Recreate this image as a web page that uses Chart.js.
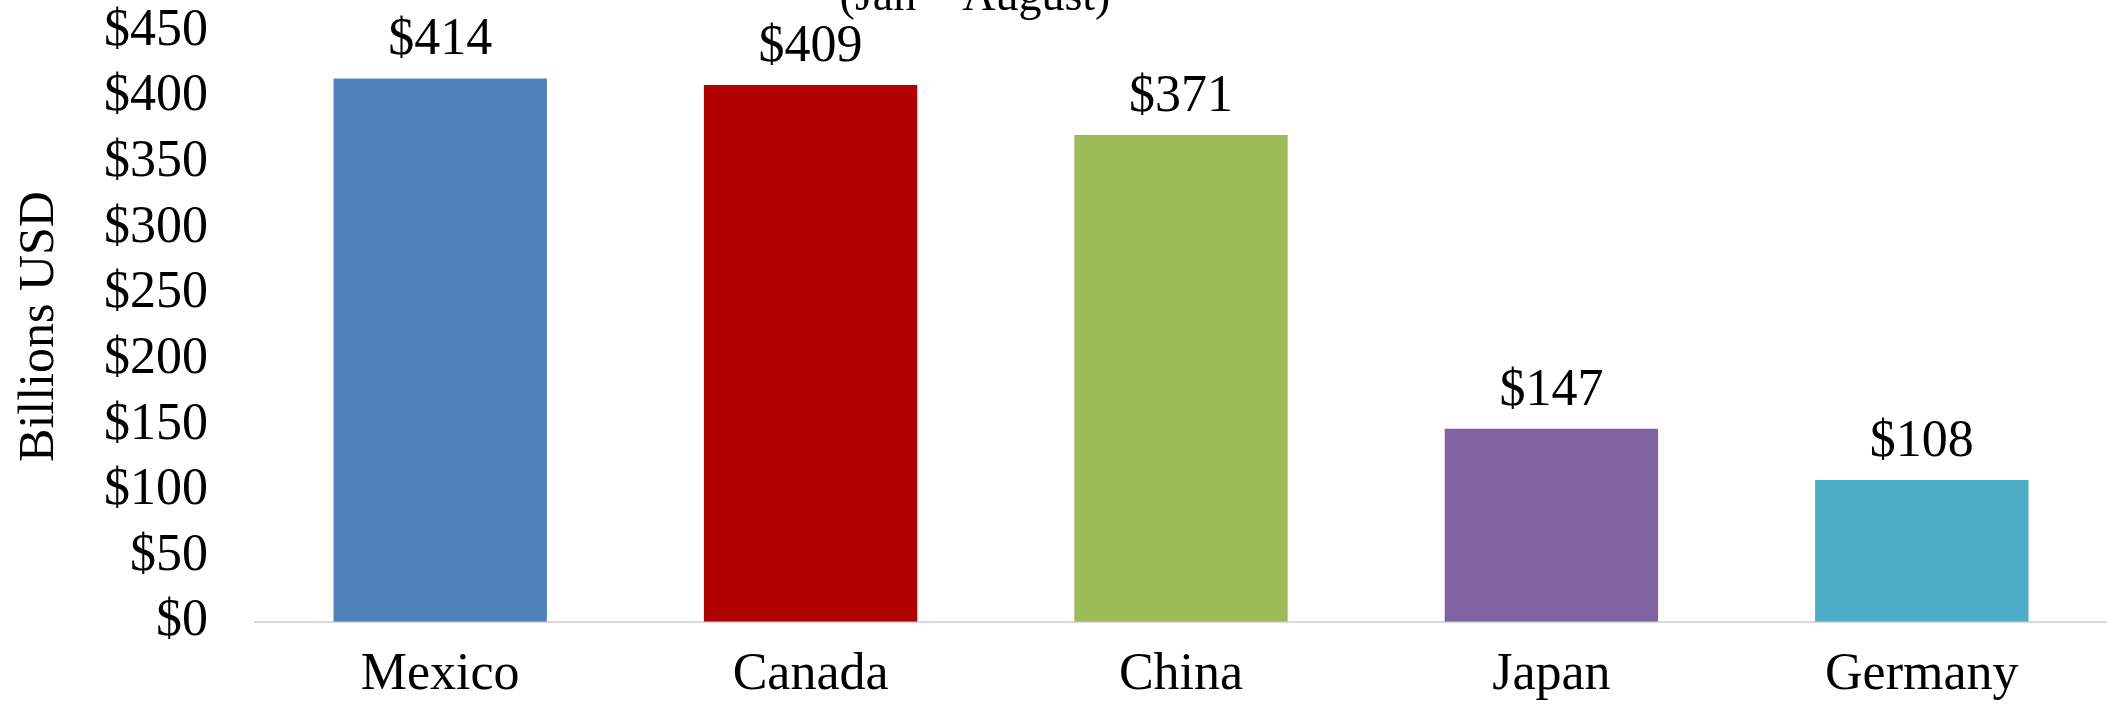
<!DOCTYPE html>
<html>
<head>
<meta charset="utf-8">
<script src="https://cdn.jsdelivr.net/npm/chart.js@4"></script>
<style>
  body { margin: 0; background: #fff; }
  #caja { width: 2107px; height: 704px; position: relative; }
</style>
</head>
<body>
<div id="caja"><canvas id="graficoPaises"></canvas></div>
<script>
// datos
const paises = ["Mexico", "Canada", "China", "Japan", "Germany"];
const valores = [414, 409, 371, 147, 108];
const colores = ["#4F81BD", "#B00000", "#9BBB59", "#8064A2", "#4BACC6"];
const ticksEje = [0, 50, 100, 150, 200, 250, 300, 350, 400, 450];
const titulo = "(Jan \u2013 August)";
const tituloEje = "Billions USD";

const fuente = "'Liberation Serif', 'Times New Roman', serif";

// etiquetas de valor encima de cada barra
const etiquetasBarras = {
  id: "etiquetasBarras",
  afterDatasetsDraw(chart) {
    const ctx = chart.ctx;
    const meta = chart.getDatasetMeta(0);
    ctx.save();
    ctx.font = "52px " + fuente;
    ctx.fillStyle = "#000";
    ctx.textAlign = "center";
    ctx.textBaseline = "alphabetic";
    meta.data.forEach((barra, i) => {
      ctx.fillText("$" + valores[i], barra.x, barra.y - 24);
    });
    ctx.restore();
  },
};

// titulo cortado arriba (solo se ve la segunda linea)
const tituloCortado = {
  id: "tituloCortado",
  afterDraw(chart) {
    const ctx = chart.ctx;
    ctx.save();
    ctx.font = "46px " + fuente;
    ctx.fillStyle = "#000";
    ctx.textAlign = "center";
    ctx.textBaseline = "alphabetic";
    ctx.fillText(titulo, 975, 10);
    ctx.restore();
  },
};

const config = {
  type: "bar",
  data: {
    labels: paises,
    datasets: [
      {
        data: valores,
        backgroundColor: colores,
        borderWidth: 0,
        categoryPercentage: 1,
        barPercentage: 0.576,
      },
    ],
  },
  options: {
    responsive: true,
    maintainAspectRatio: false,
    animation: false,
    layout: { padding: { top: 0, right: -6, bottom: 0, left: 0 } },
    plugins: {
      legend: { display: false },
      tooltip: { enabled: false },
      title: { display: false },
    },
    scales: {
      x: {
        // el espacio bajo el eje se da con tickLength (padding cuenta doble)
        grid: { display: false, drawTicks: true, tickLength: 25 },
        border: { display: true, color: "#d9d9d9", width: 2 },
        ticks: {
          color: "#000",
          padding: 0,
          font: { family: fuente, size: 52, lineHeight: 1.1 },
        },
      },
      y: {
        min: 0,
        max: 450,
        afterBuildTicks(eje) {
          eje.ticks = ticksEje.map((v) => ({ value: v }));
        },
        grid: { display: false, drawTicks: true, tickLength: 47 },
        border: { display: false },
        ticks: {
          autoSkip: false,
          color: "#000",
          padding: 0,
          font: { family: fuente, size: 52 },
          callback: (v) => "$" + v,
        },
        title: {
          display: true,
          text: tituloEje,
          color: "#000",
          font: { family: fuente, size: 50 },
          padding: { top: 10, bottom: 34 },
        },
      },
    },
  },
  plugins: [etiquetasBarras, tituloCortado],
};

new Chart(document.getElementById("graficoPaises"), config);
</script>
</body>
</html>
